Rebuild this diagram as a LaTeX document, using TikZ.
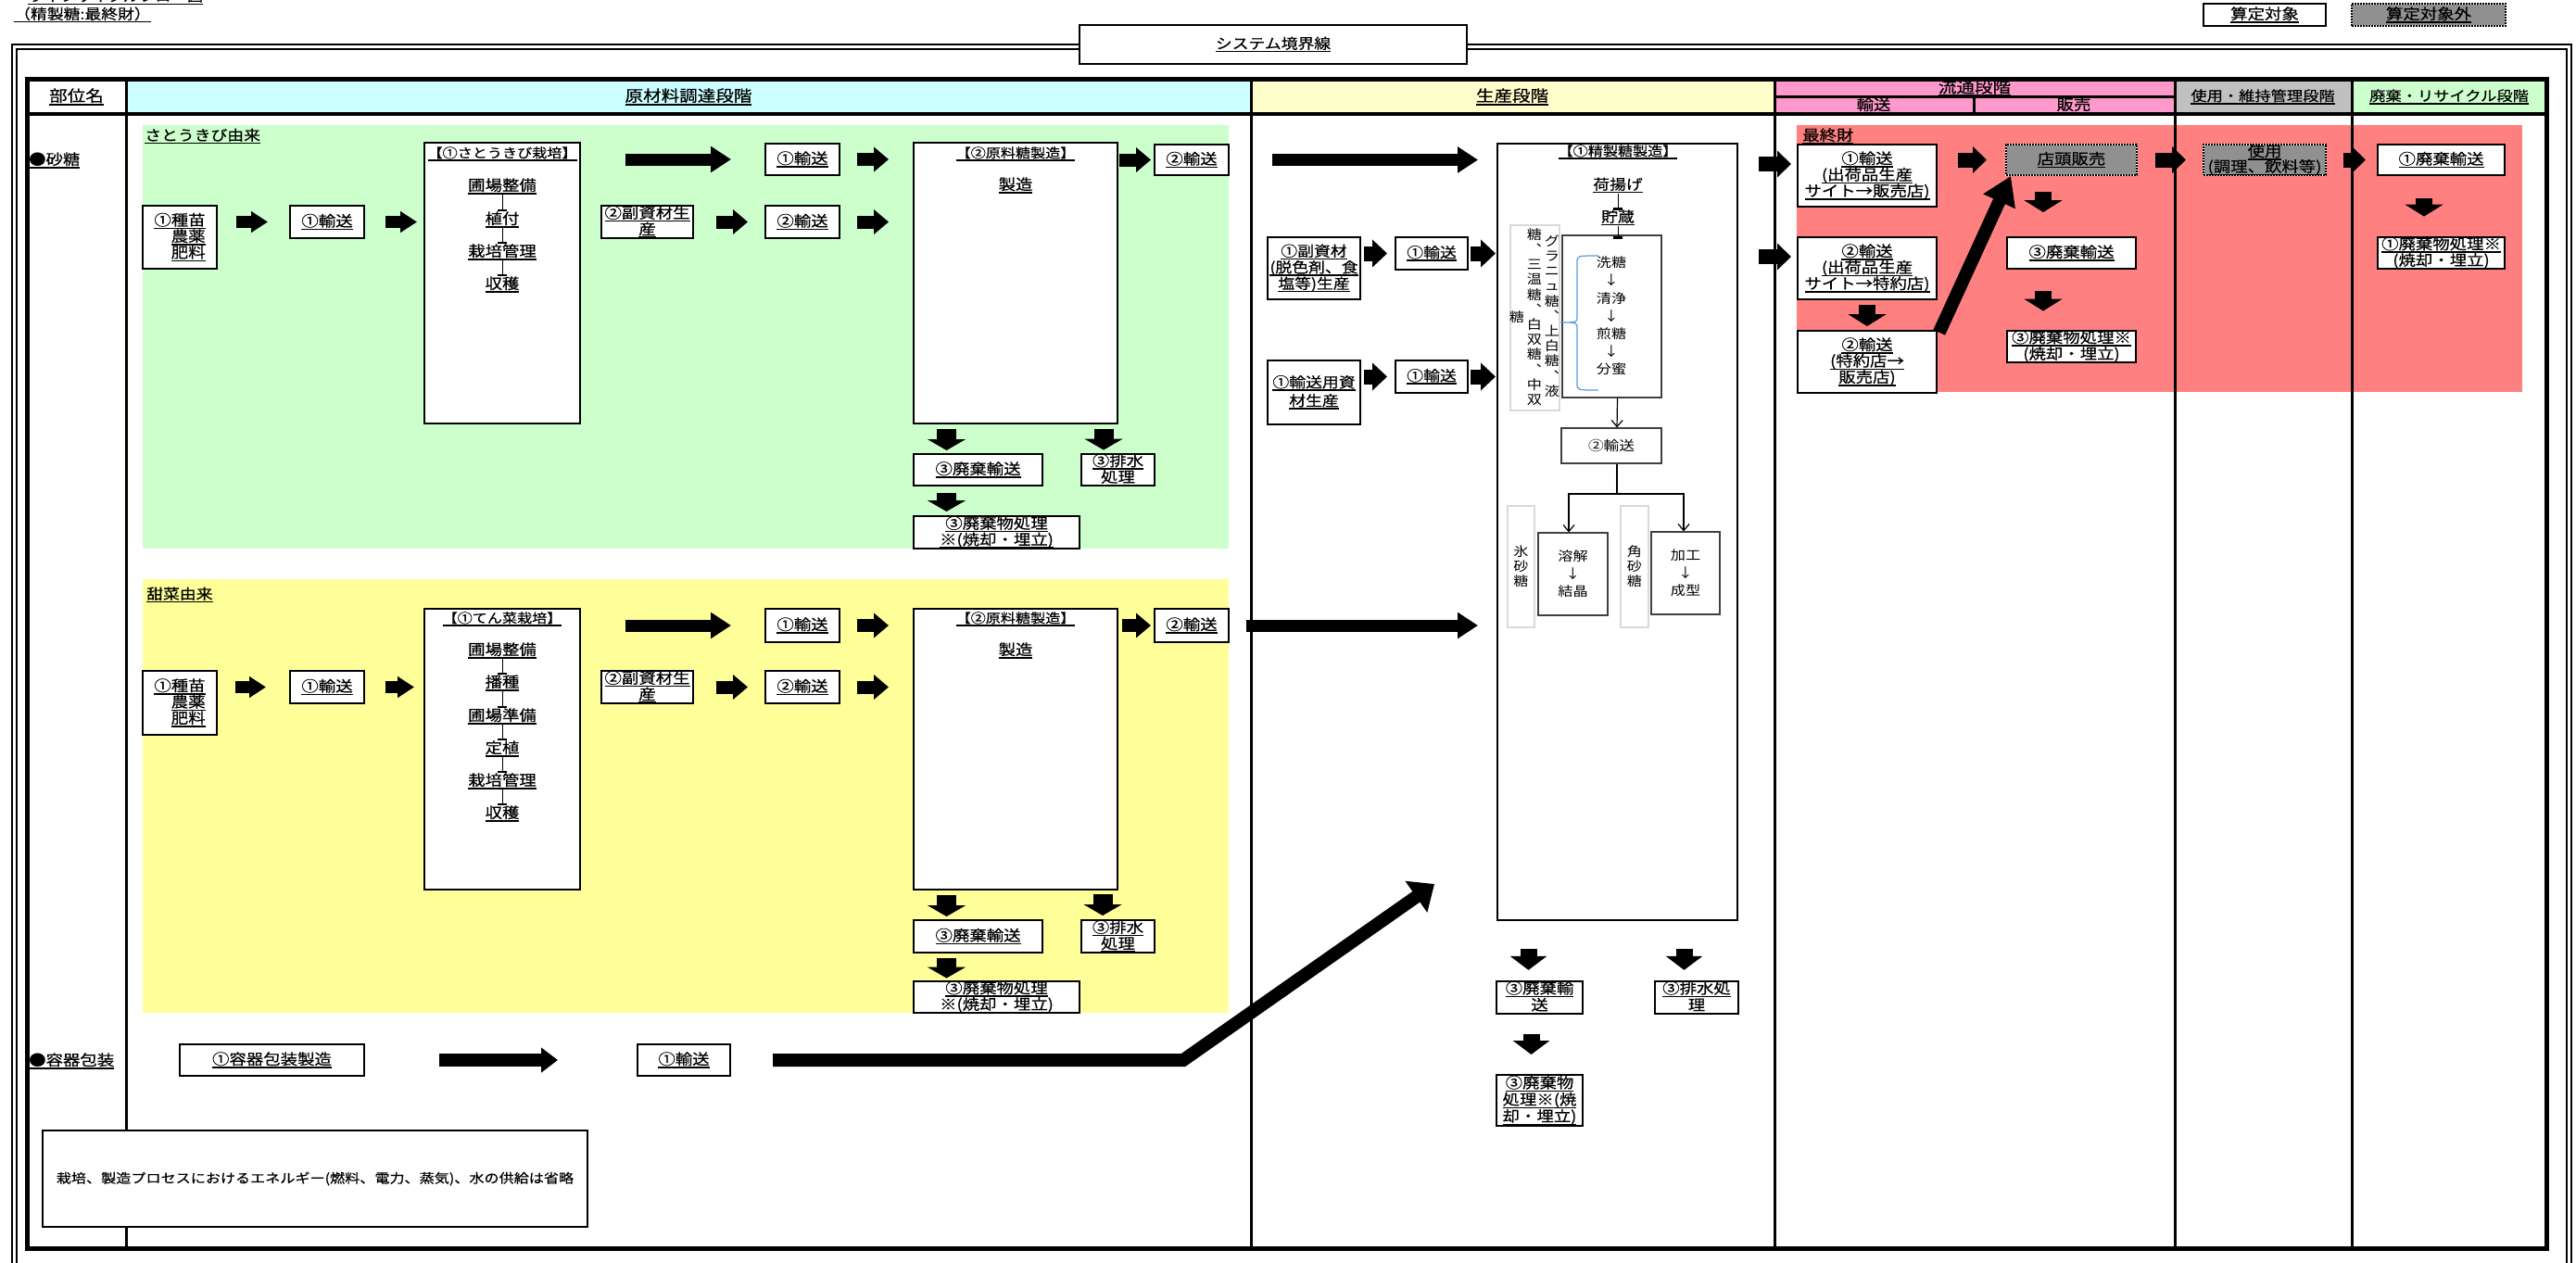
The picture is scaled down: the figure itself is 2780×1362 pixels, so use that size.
\documentclass[tikz,border=0pt]{standalone}
\usepackage{fontspec}
\newfontfamily\jpr[FakeStretch=1.15]{Noto Sans CJK JP}
\newfontfamily\jp[FakeStretch=1.15,FakeBold=0.5]{Noto Sans CJK JP}
\usetikzlibrary{arrows.meta}
\definecolor{hcyan}{HTML}{CCFFFF}
\definecolor{hyel}{HTML}{FFFFCC}
\definecolor{hpink}{HTML}{FF99CC}
\definecolor{hgray}{HTML}{C0C0C0}
\definecolor{hgreen}{HTML}{CCFFCC}
\definecolor{rgreen}{HTML}{CCFFCC}
\definecolor{ryel}{HTML}{FFFF99}
\definecolor{rred}{HTML}{FF8080}
\definecolor{boxgray}{HTML}{909090}
\definecolor{braceblue}{HTML}{5B9BD5}
\newcommand\uln[1]{\leavevmode\setbox0=\hbox{#1}\rlap{\rule[-0.24em]{\wd0}{0.1em}}\box0}
\newcommand\fs[2]{\fontsize{#1}{#2}\selectfont\lineskiplimit=-60pt\relax}
\newcommand\bx[7][]{\node[bx,minimum width={#4-#2},minimum height={#5-#3},#1] (#6) at ({(#2+#4)/2},{(#3+#5)/2}) {#7};}
\tikzset{
 bx/.style={draw,line width=2pt,fill=white,inner sep=0pt,align=center},
 tb/.style={draw=black!75,line width=1.2pt},
 gb/.style={draw=black!15,line width=1.5pt},
 gr/.style={fill=boxgray,draw=white,line width=2pt,postaction={draw=black,densely dotted,line width=2pt}},
 txt/.style={inner sep=0pt,align=center},
 hd/.style={font=\jp\fs{17}{19}},
 hdb/.style={font=\jp\fs{15}{17}},
 fa/.style={font=\jp\fs{16}{17.5}},
 fb/.style={font=\jp\fs{15.5}{17.5}},
 fc/.style={font=\jp\fs{16}{18}},
 ft/.style={font=\jp\fs{14}{16}},
 fp/.style={font=\jpr\fs{14}{19.2}},
 fv/.style={font=\jpr\fs{14}{16.2}},
 fu/.style={font=\jp\fs{16}{16.5}},
 tar/.style={line width=0.8pt,-{Rectangle[length=2.5pt,width=10pt]}},
 thl/.style={line width=1.2pt},
 thar/.style={line width=1.2pt,-{Straight Barb[length=7pt,width=12pt]}},
 arA/.style={line width=13pt,-{Triangle[length=18pt,width=22pt]}},
 arB/.style={line width=14pt,-{Triangle[length=16pt,width=26pt]}},
 arBig/.style={line width=13pt,-{Triangle[length=22pt,width=27pt]}},
 arDn/.style={line width=21pt,-{Triangle[length=12pt,width=41pt]}},
 arP/.style={line width=16pt,-{Triangle[length=16pt,width=29pt]}},
 arPd/.style={line width=18pt,-{Triangle[length=15pt,width=39pt]}},
 arDd/.style={line width=18pt,-{Triangle[length=13pt,width=41pt]}},
 arDr/.style={line width=16pt,-{Triangle[length=15pt,width=28pt]}},
 arC/.style={line width=14pt,-{Triangle[length=18pt,width=26pt]}},
 arBent/.style={line width=14pt,line join=miter,-{Triangle[length=24pt,width=40pt]}},
 arDiag/.style={line width=14pt,-{Triangle[length=30pt,width=36pt]}},
}
\begin{document}
\begin{tikzpicture}[x=1pt,y=-1pt]
\useasboundingbox (0,0) rectangle (2780,1362);
\fill[white] (0,0) rectangle (2780,1362);
% titles
\node[txt,anchor=base west,font=\jp\fs{15}{17}] (t0) at (30,1.5) {\uln{ライフサイクルフロー図}};
\node[txt,anchor=west,font=\jp\fs{15.5}{17}] (t1) at (15,16) {\uln{（精製糖:最終財）}};
% outer double boundary
\draw[line width=1.5pt] (13,1400) -- (13,48) -- (2775,48) -- (2775,1400);
\draw[line width=1.5pt] (18,1400) -- (18,53) -- (2770,53) -- (2770,1400);
\node[bx,line width=2.5pt,minimum width=418,minimum height=42,font=\jp\fs{15.5}{17}] (sys) at (1374,48) {\uln{システム境界線}};
% legend
\bx[line width=2.5pt,fa]{2378}{4}{2510}{28}{lg1}{\uln{算定対象}}
\bx[gr,fa]{2538}{4}{2704}{28}{lg2}{\uln{算定対象外}}
% header fills
\fill[hcyan] (136,86) rectangle (1350,123);
\fill[hyel] (1350,86) rectangle (1915,123);
\fill[hpink] (1915,86) rectangle (2347,123);
\fill[hgray] (2347,86) rectangle (2538,123);
\fill[hgreen] (2538,86) rectangle (2748,123);
% regions
\fill[rgreen] (154,135) rectangle (1326,592);
\fill[ryel] (154,625) rectangle (1326,1093);
\fill[rred] (1939,135) rectangle (2722,423);
% table lines
\draw[line width=5pt] (29,86) rectangle (2748,1347);
\draw[line width=4pt] (29,123) -- (2748,123);
\foreach \x in {136,1350,1915,2347,2538} \draw[line width=3pt] (\x,86) -- (\x,1347);
\draw[line width=3pt] (1915,105) -- (2347,105);
\draw[line width=3pt] (2130,105) -- (2130,123);
% header texts
\node[txt,hd] (h1) at (82.5,104.5) {\uln{部位名}};
\node[txt,hd] (h2) at (743,104.5) {\uln{原材料調達段階}};
\node[txt,hd] (h3) at (1632,104.5) {\uln{生産段階}};
\node[txt,hd] (h4) at (2131,95) {\uln{流通段階}};
\node[txt,fa] (h4a) at (2022,114) {\uln{輸送}};
\node[txt,fa] (h4b) at (2238,114) {\uln{販売}};
\node[txt,hdb] (h5) at (2442,104.5) {\uln{使用・維持管理段階}};
\node[txt,hdb] (h6) at (2643,104.5) {\uln{廃棄・リサイクル段階}};
% row labels
\node[txt,fa,anchor=west] (r1) at (31,173) {\uln{●砂糖}};
\node[txt,fa,anchor=west] (r2) at (31,1145) {\uln{●容器包装}};
\node[txt,fb,anchor=west] (lg) at (156,147) {\uln{さとうきび由来}};
\node[txt,fb,anchor=west] (ly) at (158,642) {\uln{甜菜由来}};
\node[txt,fa,anchor=west] (lr) at (1945,147) {\uln{最終財}};

% ===== green row (sugar cane)
\bx[fa,align=right]{154}{222}{234}{290}{gseed}{\uln{①種苗}\\\uln{農薬}\\\uln{肥料}}
\bx[fa]{313}{222}{393}{257}{gtra}{\uln{①輸送}}
\bx{458}{154}{626}{457}{gcult}{}
\node[txt,ft] (gct) at (542,166) {\uln{【①さとうきび栽培】}};
\node[txt,fa] (gc1) at (542,201) {\uln{圃場整備}};
\node[txt,fa] (gc2) at (542,237) {\uln{植付}};
\node[txt,fa] (gc3) at (542,272) {\uln{栽培管理}};
\node[txt,fa] (gc4) at (542,307) {\uln{収穫}};
\draw[tar] (gc1) -- (gc2);
\draw[tar] (gc2) -- (gc3);
\draw[tar] (gc3) -- (gc4);
\bx[fa]{649}{222}{748}{257}{gsub}{\uln{②副資材生}\\\uln{産}}
\bx[fa]{826}{155}{906}{189}{gtrb}{\uln{①輸送}}
\bx[fa]{826}{222}{906}{257}{gtrc}{\uln{②輸送}}
\bx{986}{154}{1206}{457}{graw}{}
\node[txt,ft] (grt) at (1096,166) {\uln{【②原料糖製造】}};
\node[txt,fa] (grm) at (1096,200) {\uln{製造}};
\bx[fa]{1246}{156}{1326}{189}{gtrd}{\uln{②輸送}}
\bx[fa]{986}{490}{1125}{524}{gwst}{\uln{③廃棄輸送}}
\bx[fa]{1167}{490}{1246}{524}{gwat}{\uln{③排水}\\\uln{処理}}
\bx[fa]{986}{557}{1165}{592}{gwpr}{\uln{③廃棄物処理}\\\uln{※(焼却・埋立)}}
\draw[arA,shorten <=20pt,shorten >=23pt] (gseed.east |- gtra.west) -- (gtra.west);
\draw[arA,shorten <=22pt,shorten >=7pt] (gtra.east) -- (gtra.east -| gcult.west);
\draw[arBig,shorten <=48pt,shorten >=36pt] (gcult.east |- gtrb.west) -- (gtrb.west);
\draw[arB,shorten <=18pt,shorten >=26pt] (gtrb.east) -- (gtrb.east -| graw.west);
\draw[arB,shorten <=24pt,shorten >=18pt] (gsub.east) -- (gtrc.west);
\draw[arB,shorten <=18pt,shorten >=26pt] (gtrc.east) -- (gtrc.east -| graw.west);
\draw[arB,shorten <=1pt,shorten >=3pt] (graw.east |- gtrd.west) -- (gtrd.west);
\draw[arDn,shorten <=5pt,shorten >=3pt] ([xshift=36.5pt]graw.south west) -- ([xshift=36.5pt]gwst.north west);
\draw[arDn,shorten <=5pt,shorten >=3pt] ([xshift=-16pt]graw.south east) -- ([xshift=-56pt]gwat.north east);
\draw[arDn,shorten <=7pt,shorten >=4pt] ([xshift=36.5pt]gwst.south west) -- ([xshift=36.5pt]gwpr.north west);

% ===== yellow row (sugar beet)
\bx[fa,align=right]{154}{724}{234}{793}{yseed}{\uln{①種苗}\\\uln{農薬}\\\uln{肥料}}
\bx[fa]{313}{724}{393}{759}{ytra}{\uln{①輸送}}
\bx{458}{657}{626}{960}{ycult}{}
\node[txt,ft] (yct) at (542,668) {\uln{【①てん菜栽培】}};
\node[txt,fa] (yc1) at (542,702) {\uln{圃場整備}};
\node[txt,fa] (yc2) at (542,737) {\uln{播種}};
\node[txt,fa] (yc3) at (542,773) {\uln{圃場準備}};
\node[txt,fa] (yc4) at (542,808) {\uln{定植}};
\node[txt,fa] (yc5) at (542,843) {\uln{栽培管理}};
\node[txt,fa] (yc6) at (542,878) {\uln{収穫}};
\draw[tar] (yc1) -- (yc2);
\draw[tar] (yc2) -- (yc3);
\draw[tar] (yc3) -- (yc4);
\draw[tar] (yc4) -- (yc5);
\draw[tar] (yc5) -- (yc6);
\bx[fa]{649}{724}{748}{759}{ysub}{\uln{②副資材生}\\\uln{産}}
\bx[fa]{826}{657}{906}{693}{ytrb}{\uln{①輸送}}
\bx[fa]{826}{724}{906}{759}{ytrc}{\uln{②輸送}}
\bx{986}{657}{1206}{960}{yraw}{}
\node[txt,ft] (yrt) at (1096,668) {\uln{【②原料糖製造】}};
\node[txt,fa] (yrm) at (1096,702) {\uln{製造}};
\bx[fa]{1246}{657}{1326}{693}{ytrd}{\uln{②輸送}}
\bx[fa]{986}{993}{1125}{1028}{ywst}{\uln{③廃棄輸送}}
\bx[fa]{1167}{993}{1246}{1028}{ywat}{\uln{③排水}\\\uln{処理}}
\bx[fa]{986}{1059}{1165}{1093}{ywpr}{\uln{③廃棄物処理}\\\uln{※(焼却・埋立)}}
\draw[arA,shorten <=19pt,shorten >=25pt] (yseed.east |- ytra.west) -- (ytra.west);
\draw[arA,shorten <=22pt,shorten >=10pt] (ytra.east) -- (ytra.east -| ycult.west);
\draw[arBig,shorten <=48pt,shorten >=36pt] (ycult.east |- ytrb.west) -- (ytrb.west);
\draw[arB,shorten <=18pt,shorten >=26pt] (ytrb.east) -- (ytrb.east -| yraw.west);
\draw[arB,shorten <=24pt,shorten >=18pt] (ysub.east) -- (ytrc.west);
\draw[arB,shorten <=18pt,shorten >=26pt] (ytrc.east) -- (ytrc.east -| yraw.west);
\draw[arB,shorten <=4pt,shorten >=3pt] (yraw.east |- ytrd.west) -- (ytrd.west);
\draw[arDn,shorten <=5pt,shorten >=3pt] ([xshift=36.5pt]yraw.south west) -- ([xshift=36.5pt]ywst.north west);
\draw[arDn,shorten <=4pt,shorten >=4pt] ([xshift=-17pt]yraw.south east) -- ([xshift=-57pt]ywat.north east);
\draw[arDn,shorten <=5pt,shorten >=2pt] ([xshift=36.5pt]ywst.south west) -- ([xshift=36.5pt]ywpr.north west);

% ===== production stage
\bx{1616}{155}{1875}{993}{pref}{}
\node[txt,ft] (prt) at (1746,164) {\uln{【①精製糖製造】}};
\node[txt,fb] (pr1) at (1746,200) {\uln{荷揚げ}};
\node[txt,fb] (pr2) at (1746,235) {\uln{貯蔵}};
\bx[fb]{1368}{256}{1468}{323}{psub}{\uln{①副資材}\\\uln{(脱色剤、食}\\\uln{塩等)生産}}
\bx[fb]{1506}{256}{1584}{291}{ptra}{\uln{①輸送}}
\bx[font=\jp\fs{15.5}{20}]{1368}{389}{1468}{458}{ppak}{\uln{①輸送用資}\\\uln{材生産}}
\bx[fb]{1506}{389}{1584}{424}{ptrb}{\uln{①輸送}}
\draw[arP,shorten <=3pt,shorten >=8pt] (psub.east |- ptra.west) -- (ptra.west);
\draw[arP,shorten <=2pt,shorten >=1pt] (ptra.east) -- (ptra.east -| pref.west);
\draw[arP,shorten <=3pt,shorten >=8pt] (ppak.east |- ptrb.west) -- (ptrb.west);
\draw[arP,shorten <=2pt,shorten >=1pt] (ptrb.east) -- (ptrb.east -| pref.west);
\draw[arBig,shorten <=46pt,shorten >=20pt] (gtrd.east) -- (gtrd.east -| pref.west);
\draw[arBig,shorten <=18pt,shorten >=20pt] (ytrd.east) -- (ytrd.east -| pref.west);
% inner process
\bx[tb]{1686}{254}{1793}{429}{pin}{}
\draw[braceblue,line width=1.2pt] (1725,276) .. controls (1702,276) .. (1702,283) -- (1702,342) .. controls (1702,348) .. (1683,348) .. controls (1702,348) .. (1702,354) -- (1702,414) .. controls (1702,421) .. (1725,421);
\node[txt,fp] (pst) at (1739,341) {洗糖\\↓\\清浄\\↓\\煎糖\\↓\\分蜜};
\bx[gb]{1630}{243}{1683}{443}{pvt}{}
\node[txt,fv] (pv1) at (1675,341) {グ\\ラ\\ニ\\ュ\\糖\\︑\\上\\白\\糖\\︑\\液};
\node[txt,fv] (pv2) at (1656,342) {糖\\︑\\三\\温\\糖\\︑\\白\\双\\糖\\︑\\中\\双};
\node[txt,fv] (pv3) at (1637,342) {糖};
\draw[tar] (pr1) -- (pr2);
\draw[tar] (pr2.south) -- ([yshift=-4pt]pin.north -| pr2.south);
\bx[tb,font=\jpr\fs{14.5}{17}]{1685}{462}{1793}{500}{ptin}{②輸送}
\draw[thar] ([xshift=6pt]pin.south) -- ([xshift=6pt]ptin.north);
\coordinate (pj) at (1745,533);
\draw[thl] ([xshift=6pt]ptin.south) -- (pj);
\bx[gb]{1627}{546}{1656}{677}{pice}{}
\node[txt,font=\jpr\fs{14}{16}] (pit) at (1641.5,611) {氷\\砂\\糖};
\bx[tb,font=\jpr\fs{14}{19}]{1660}{575}{1735}{664}{pdis}{溶解\\↓\\結晶}
\bx[gb]{1749}{546}{1779}{677}{pcub}{}
\node[txt,font=\jpr\fs{14}{16}] (pct) at (1764,611) {角\\砂\\糖};
\bx[tb,font=\jpr\fs{14}{19}]{1782}{574}{1856}{663}{pprc}{加工\\↓\\成型}
\draw[thar] (pj) -| ([xshift=-4.5pt]pdis.north);
\draw[thar] (pj) -| ([xshift=-2pt]pprc.north);
% production waste
\bx[fc]{1615}{1059}{1708}{1094}{pwst}{\uln{③廃棄輸}\\\uln{送}}
\bx[fc]{1786}{1059}{1876}{1094}{pwat}{\uln{③排水処}\\\uln{理}}
\bx[fc]{1615}{1160}{1708}{1215}{pwpr}{\uln{③廃棄物}\\\uln{処理※(焼}\\\uln{却・埋立)}}
\draw[arPd,shorten <=30pt,shorten >=11pt] ([xshift=34.5pt]pref.south west) -- ([xshift=35.5pt]pwst.north west);
\draw[arPd,shorten <=30pt,shorten >=11pt] ([xshift=202.5pt]pref.south west) -- ([xshift=32.5pt]pwat.north west);
\draw[arPd,shorten <=21pt,shorten >=21pt] ([xshift=38.5pt]pwst.south west) -- ([xshift=38.5pt]pwpr.north west);

% ===== distribution, use, disposal
\bx[fa]{1940}{156}{2090}{223}{dtra}{\uln{①輸送}\\\uln{(出荷品生産}\\\uln{サイト→販売店)}}
\bx[fa]{1940}{256}{2090}{323}{dtrb}{\uln{②輸送}\\\uln{(出荷品生産}\\\uln{サイト→特約店)}}
\bx[fa]{1940}{357}{2090}{424}{dtrc}{\uln{②輸送}\\\uln{(特約店→}\\\uln{販売店)}}
\bx[gr,fa]{2165}{156}{2306}{189}{dshop}{\uln{店頭販売}}
\bx[fa]{2166}{256}{2305}{290}{dwst}{\uln{③廃棄輸送}}
\bx[fa]{2166}{357}{2305}{391}{dwpr}{\uln{③廃棄物処理※}\\\uln{(焼却・埋立)}}
\bx[gr,fu]{2378}{156}{2510}{189}{duse}{\uln{使用}\\\uln{(調理、飲料等)}}
\bx[fa]{2566}{156}{2703}{189}{rwst}{\uln{①廃棄輸送}}
\bx[fa]{2566}{256}{2703}{290}{rwpr}{\uln{①廃棄物処理※}\\\uln{(焼却・埋立)}}
\coordinate (dinA) at ([yshift=-22pt]dtra.north west);
\coordinate (dinB) at ([yshift=-22pt]dtrb.north west);
\draw[arDr,shorten <=22pt,shorten >=6pt] (pref.east |- dinA) -- (dinA);
\draw[arDr,shorten <=22pt,shorten >=6pt] (pref.east |- dinB) -- (dinB);
\draw[arDr,shorten <=22pt,shorten >=20pt] (dtra.east |- dshop.west) -- (dshop.west);
\draw[arDd,shorten <=5pt,shorten >=4pt] (dtrb.south) -- (dtrc.north);
\draw[arDiag,shorten <=-3pt] ([xshift=3pt]dtrc.north east) -- ([xshift=6pt]dshop.south west);
\draw[arDd,shorten <=17pt,shorten >=26pt] ([xshift=41pt]dshop.south west) -- ([xshift=40pt]dwst.north west);
\draw[arDd,shorten <=23pt,shorten >=20pt] ([xshift=40pt]dwst.south west) -- ([xshift=40pt]dwpr.north west);
\draw[arDr,shorten <=19pt,shorten >=18pt] (dshop.east) -- (duse.west);
\draw[arDr,shorten <=18pt,shorten >=12pt] (duse.east) -- (rwst.west);
\draw[arDd,shorten <=24pt,shorten >=21pt] ([xshift=51pt]rwst.south west) -- ([xshift=51pt]rwpr.north west);

% ===== container packaging
\bx[fa]{194}{1127}{393}{1161}{cmk}{\uln{①容器包装製造}}
\bx[fa]{688}{1127}{788}{1161}{ctr}{\uln{①輸送}}
\draw[arC,shorten <=80pt,shorten >=85pt] (cmk.east) -- (ctr.west);
\coordinate (cbend) at (1277,1144);
\draw[arBent,shorten <=45pt] (ctr.east) -- (cbend) -- ([xshift=-67pt,yshift=40pt]pref.south west);
% note
\bx[line width=2.5pt,font=\jp\fs{14}{16}]{46}{1220}{634}{1324}{note}{栽培、製造プロセスにおけるエネルギー(燃料、電力、蒸気)、水の供給は省略}
\end{tikzpicture}
\end{document}
